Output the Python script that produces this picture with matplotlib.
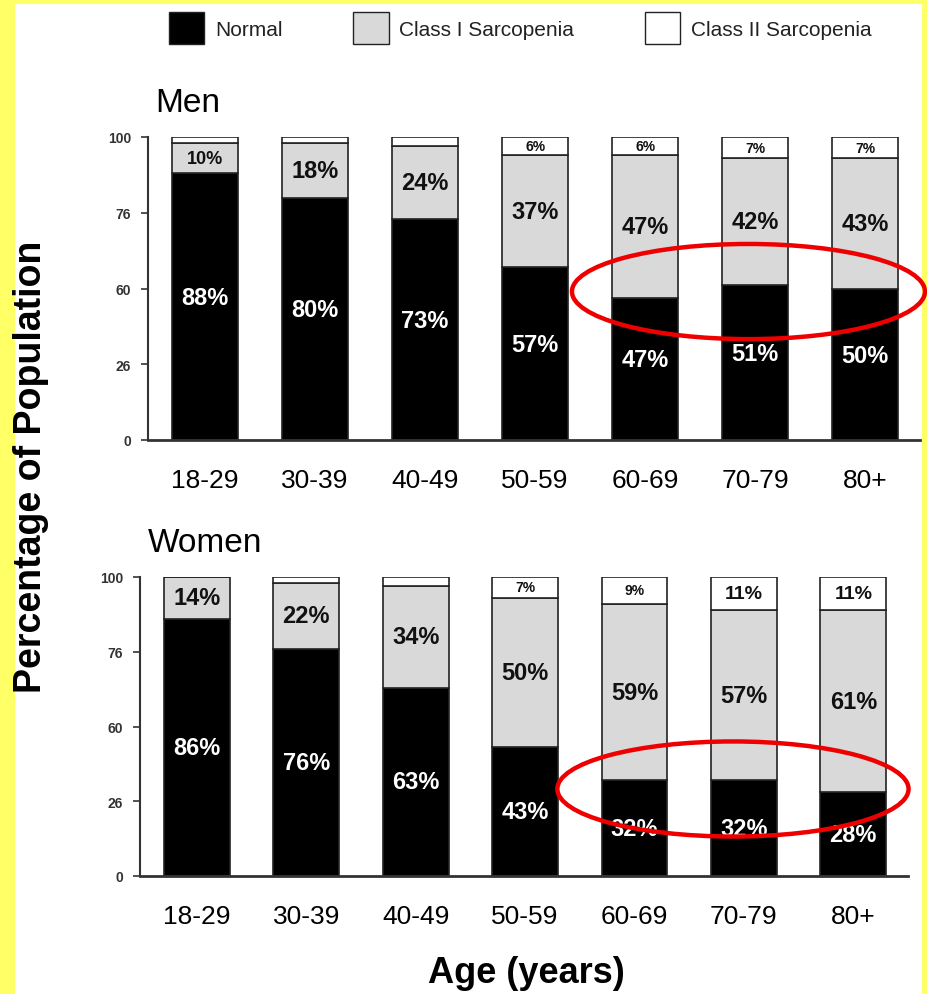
import matplotlib
matplotlib.use("Agg")
import matplotlib.pyplot as plt
from matplotlib.patches import Patch, Ellipse, Rectangle

plt.rcParams["font.family"] = ["Liberation Sans", "DejaVu Sans"]

age_groups = ["18-29", "30-39", "40-49", "50-59", "60-69", "70-79", "80+"]

men_normal = [88, 80, 73, 57, 47, 51, 50]
men_class1 = [10, 18, 24, 37, 47, 42, 43]
men_class2 = [2, 2, 3, 6, 6, 7, 7]
men_class2_labels = ["", "", "", "6%", "6%", "7%", "7%"]

women_normal = [86, 76, 63, 43, 32, 32, 28]
women_class1 = [14, 22, 34, 50, 59, 57, 61]
women_class2 = [0, 2, 3, 7, 9, 11, 11]
women_class2_labels = ["", "", "", "7%", "9%", "11%", "11%"]

y_ticks = [0, 25, 50, 75, 100]
y_tick_labels = ["0", "26", "60", "76", "100"]

gray = "#d9d9d9"
edge = "#222222"

W, H = 927, 995
fig = plt.figure(figsize=(W / 100, H / 100), dpi=100)
fig.patch.set_facecolor("#ffff66")
fig.patches.append(Rectangle((15 / W, 0), (922 - 15) / W, 1 - 5 / H,
                             transform=fig.transFigure, facecolor="white",
                             edgecolor="none", zorder=-10))


def draw_panel(ax, normal, class1, class2, class2_labels, title, ell, lift):
    x = range(len(age_groups))
    bottom1 = normal
    bottom2 = [a + b for a, b in zip(normal, class1)]
    ax.bar(x, normal, width=0.6, color="black", edgecolor=edge, linewidth=1.2)
    ax.bar(x, class1, width=0.6, bottom=bottom1, color=gray, edgecolor=edge, linewidth=1.2)
    ax.bar(x, class2, width=0.6, bottom=bottom2, color="white", edgecolor=edge, linewidth=1.2)

    for i in x:
        ax.text(i, normal[i] / 2 + lift, f"{normal[i]}%", ha="center", va="center",
                color="white", fontsize=17, fontweight="bold")
        fs = 13 if class1[i] < 12 else 17
        ax.text(i, bottom1[i] + class1[i] / 2, f"{class1[i]}%", ha="center",
                va="center", color="#111111", fontsize=fs, fontweight="bold")
        if class2_labels[i]:
            fs2 = 14 if len(class2_labels[i]) > 2 else 10
            ax.text(i, bottom2[i] + class2[i] / 2, class2_labels[i], ha="center",
                    va="center", color="#111111", fontsize=fs2, fontweight="bold")

    ax.set_xlim(-0.52, 6.5)
    ax.set_ylim(0, 100)
    ax.set_yticks(y_ticks)
    ax.set_yticklabels(y_tick_labels, fontsize=10, fontweight="bold", color="#333333")
    ax.set_xticks(list(x))
    ax.set_xticklabels(age_groups, fontsize=19)
    ax.tick_params(axis="x", length=0, pad=20)
    ax.tick_params(axis="y", length=5, width=1.2, pad=7, color="#333333")
    for s in ["top", "right"]:
        ax.spines[s].set_visible(False)
    ax.spines["left"].set_linewidth(1.5)
    ax.spines["bottom"].set_linewidth(2)
    ax.spines["left"].set_color("#333333")
    ax.spines["bottom"].set_color("#333333")

    ax.text(0.01, 1.115, title, transform=ax.transAxes, fontsize=24,
            ha="left", va="center")

    # red highlight
    ax.add_patch(Ellipse((ell[0], ell[1]), ell[2], ell[3], fill=False,
                         edgecolor="#ee0000", linewidth=3.2, clip_on=False, zorder=5))


ax_men = fig.add_axes([148 / W, 1 - 441 / H, (920 - 148) / W, 303 / H])
draw_panel(ax_men, men_normal, men_class1, men_class2, men_class2_labels,
           "Men", (4.94, 49, 3.21, 31.4), 3)

ax_women = fig.add_axes([140 / W, 1 - 877 / H, (908 - 140) / W, 299 / H])
draw_panel(ax_women, women_normal, women_class1, women_class2, women_class2_labels,
           "Women", (4.9, 29.1, 3.21, 31.8), 0)

handles = [Patch(facecolor="black", edgecolor=edge),
           Patch(facecolor=gray, edgecolor=edge),
           Patch(facecolor="white", edgecolor=edge)]
fig.legend(handles, ["Normal", "Class I Sarcopenia", "Class II Sarcopenia"],
           ncol=3, loc="upper left", bbox_to_anchor=(169 / W, 1 - 13 / H),
           frameon=False, fontsize=15, handlelength=1.7, handleheight=2.0,
           handletextpad=0.5, columnspacing=3.4, borderpad=0, borderaxespad=0,
           labelcolor="#222222")

fig.text(31 / W, 1 - 467 / H, "Percentage of Population", rotation=90,
         ha="center", va="center", fontsize=27, fontweight="bold")
fig.text(526 / W, 1 - 974 / H, "Age (years)", ha="center", va="center",
         fontsize=26, fontweight="bold")

plt.savefig("out.png", dpi=100, facecolor=fig.get_facecolor())
